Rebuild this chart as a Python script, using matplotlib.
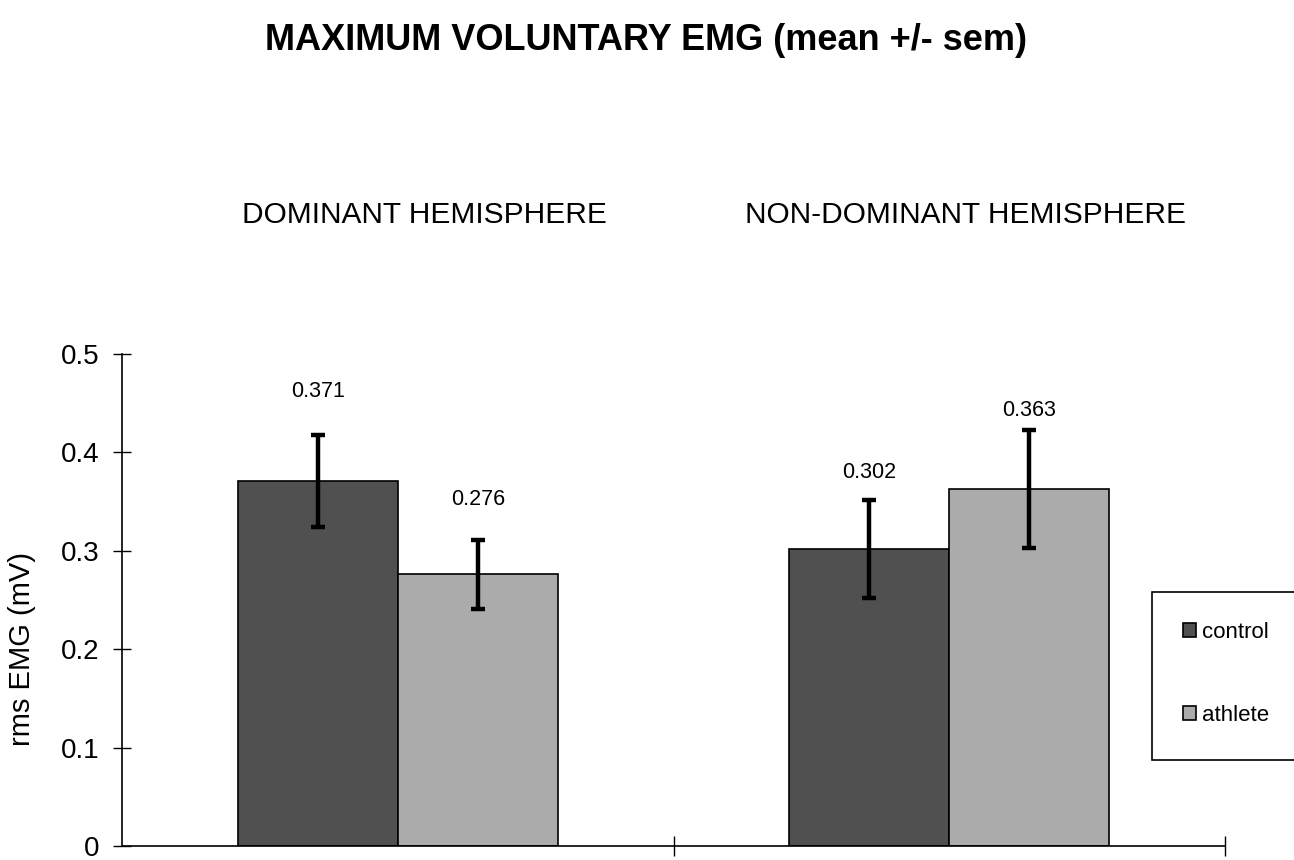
import matplotlib
matplotlib.use('Agg')
import matplotlib.pyplot as plt
from matplotlib.patches import Rectangle
import numpy as np

plt.rcParams['font.family'] = ['Liberation Sans', 'DejaVu Sans']

# data
hemispheres = ['DOMINANT HEMISPHERE', 'NON-DOMINANT HEMISPHERE']
groups = ['control', 'athlete']
control = [0.371, 0.302]
athlete = [0.276, 0.363]
control_sem = [0.047, 0.050]
athlete_sem = [0.035, 0.060]
yticks = [0, 0.1, 0.2, 0.3, 0.4, 0.5]
ytick_labels = ['0', '0.1', '0.2', '0.3', '0.4', '0.5']

# style / layout
colors = ['#505050', '#ababab']
bar_w = 0.29
label_pad = [[0.091, 0.078], [0.076, 0.080]]  # value-label offset above bar (control, athlete)

fig = plt.figure(figsize=(12.94, 8.6), dpi=100)
ax = fig.add_axes([0.0943, 0.0163, 0.8524, 0.5721])

x = np.arange(len(hemispheres))
series = [(control, control_sem), (athlete, athlete_sem)]
offsets = [-bar_w / 2, bar_w / 2]

for i, (vals, sems) in enumerate(series):
    xs = x + offsets[i]
    ax.bar(xs, vals, width=bar_w, color=colors[i], edgecolor='black',
           linewidth=1.2, label=groups[i], zorder=2)
    ax.errorbar(xs, vals, yerr=sems, fmt='none', ecolor='black',
                elinewidth=3.2, capsize=5, capthick=3.2, zorder=3)
    for j, v in enumerate(vals):
        pad = label_pad[0][j] if i == 0 else label_pad[1][j]
        ax.text(xs[j], v + pad, f'{v:.3f}', ha='center', va='center', fontsize=15.5)

ax.set_xlim(-0.5, 1.5)
ax.set_ylim(0, 0.5)
ax.set_yticks(yticks)
ax.set_yticklabels(ytick_labels, fontsize=20)
ax.set_xticks([])
ax.set_xticks([0.5, 1.5], minor=True)
ax.tick_params(axis='x', which='minor', direction='inout', length=14, width=1)
ax.tick_params(axis='y', direction='inout', length=13, width=1, pad=10)

for s in ['top', 'right']:
    ax.spines[s].set_visible(False)
ax.spines['left'].set_linewidth(1.2)
ax.spines['bottom'].set_linewidth(1.2)

ax.set_ylabel('rms EMG (mV)', fontsize=21)
ax.yaxis.set_label_coords(-0.078, 0.40)

fig.text(0.499, 0.953, 'MAXIMUM VOLUNTARY EMG (mean +/- sem)', ha='center', va='center',
         fontsize=26, fontweight='bold')
fig.text(0.328, 0.75, hemispheres[0], ha='center', va='center', fontsize=21.5)
fig.text(0.746, 0.75, hemispheres[1], ha='center', va='center', fontsize=21.5)

# legend box runs off the right edge like the original
fig.patches.append(Rectangle((0.8903, 0.1163), 0.15, 0.1954, transform=fig.transFigure,
                             facecolor='white', edgecolor='black', linewidth=1.2))
leg = fig.legend(loc='upper left', bbox_to_anchor=(0.9142, 0.2767),
                 fontsize=16, frameon=False, borderpad=0,
                 labelspacing=2.8, handlelength=0.6, handleheight=0.6,
                 handletextpad=0.25, borderaxespad=0)

fig.savefig('out.png', dpi=100)
